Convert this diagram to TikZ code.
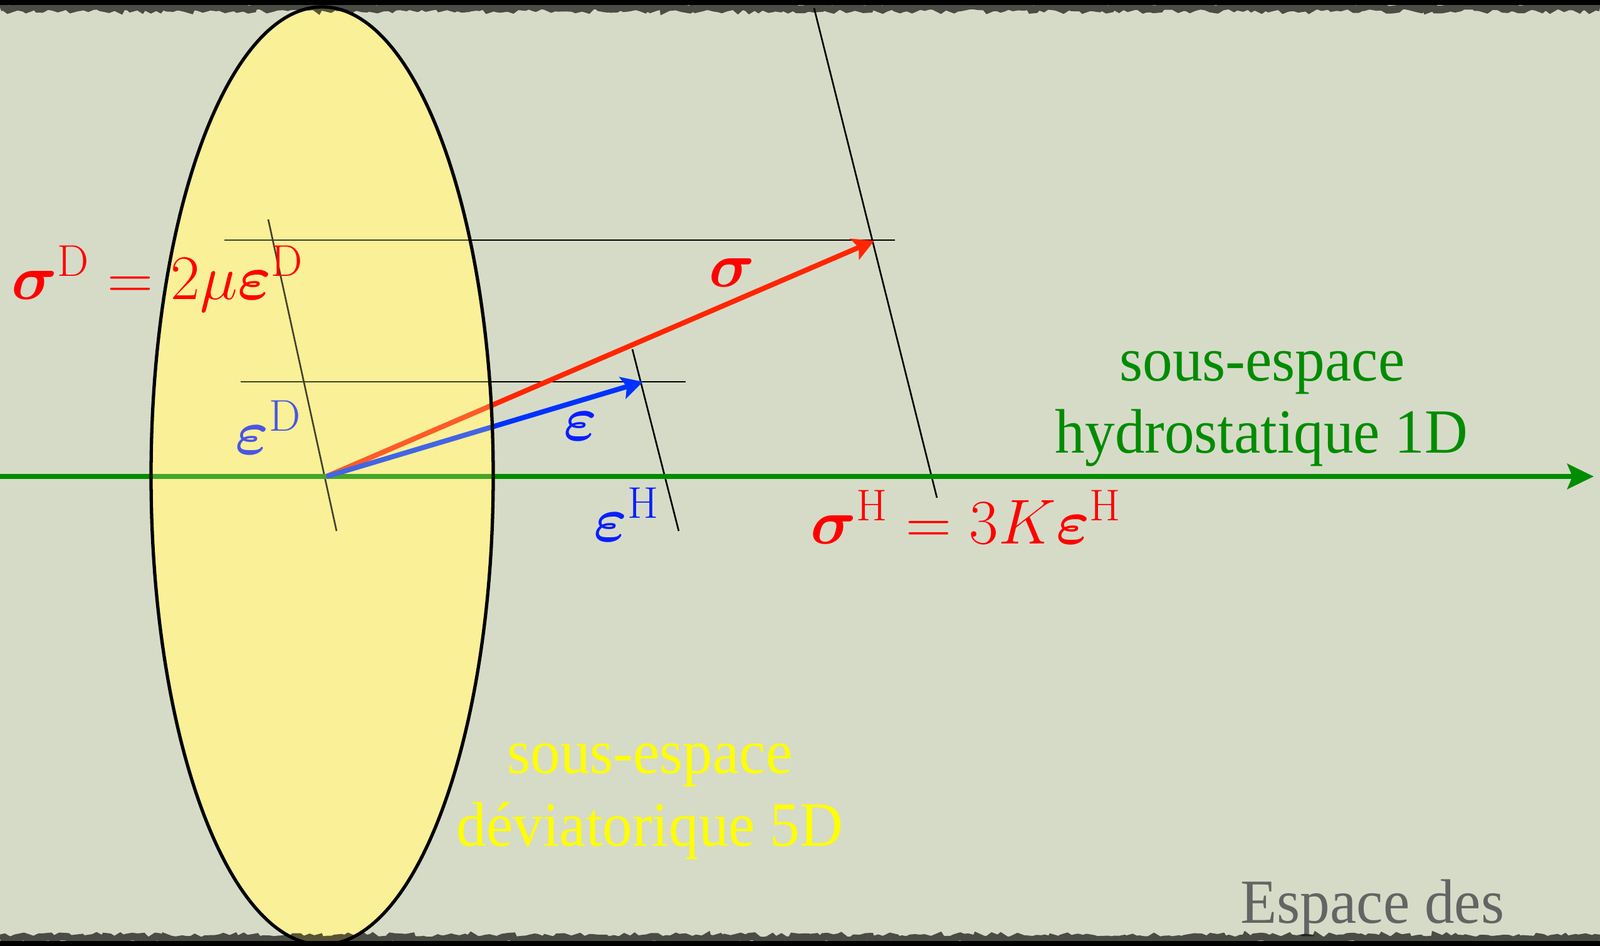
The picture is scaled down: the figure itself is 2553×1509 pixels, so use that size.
\RequirePackage{fix-cm}
\documentclass[tikz,border=0pt]{standalone}
\usepackage{amsmath}
\usepackage{fontspec}
\usepackage{bm}
\newfontfamily\labfont[FakeStretch=0.95]{Liberation Serif}
\usetikzlibrary{arrows.meta,decorations.pathmorphing}
\definecolor{bg}{RGB}{214,219,200}
\definecolor{ellfill}{RGB}{250,240,152}
\definecolor{axisgreen}{RGB}{0,140,0}
\definecolor{sigred}{RGB}{255,38,0}
\definecolor{epsarrow}{RGB}{0,50,255}
\definecolor{epstext}{RGB}{10,30,255}
\definecolor{txtyellow}{RGB}{255,255,0}
\definecolor{txtgray}{RGB}{100,100,100}
\begin{document}
\begin{tikzpicture}[x=0.01cm,y=-0.01cm,
  mathlab/.style={inner sep=0pt, font=\fontsize{28.8}{34}\selectfont},
  txtlab/.style={inner sep=0pt, font=\labfont\fontsize{28.5}{34}\selectfont},
  thinline/.style={black, line width=0.75pt},
  vecarrow/.style={line width=2.3pt, -{Stealth[length=0.34cm,width=0.36cm,inset=0.07cm]}},
  axisarrow/.style={axisgreen, line width=2.2pt, -{Stealth[length=0.42cm,width=0.40cm,inset=0.08cm]}},
]
\useasboundingbox (0,0) rectangle (2553,1509);
\fill[bg] (0,0) rectangle (2553,1509);

% coordinates
\coordinate (O) at (521,760);
\coordinate (S) at (1395,384);
\coordinate (E) at (1026,609);
\coordinate (axL) at (0,760);
\coordinate (axR) at (2543,760);
\coordinate (hSa) at (358,383);
\coordinate (hSb) at (1428,383);
\coordinate (hEa) at (384,609);
\coordinate (hEb) at (1094,609);
\coordinate (dOa) at (428,350);
\coordinate (dOb) at (537,847);
\coordinate (dEa) at (1009,557);
\coordinate (dEb) at (1083,847);
\coordinate (dSa) at (1299,13);
\coordinate (dSb) at (1495,794);
\coordinate (C) at (514,759);

% deviatoric ellipse (opaque base)
\fill[ellfill] (C) ellipse [x radius=273, y radius=748];

% construction lines
\draw[thinline] (hSa) -- (hSb);
\draw[thinline] (hEa) -- (hEb);
\draw[thinline] (dOa) -- (dOb);
\draw[thinline] (dEa) -- (dEb);
\draw[thinline] (dSa) -- (dSb);

% axis and vectors
\draw[axisarrow] (axL) -- (axR);
\draw[vecarrow, sigred] (O) -- (S);
\draw[vecarrow, epsarrow] (O) -- (E);

% label under the veil
\node[mathlab, epstext, anchor=base west] (eD) at (375,724) {$\bm{\varepsilon}^{\mathrm{D}}$};

% translucent veil of the ellipse
\fill[ellfill, opacity=0.27] (C) ellipse [x radius=273, y radius=748];
\draw[black, line width=1.5pt] (C) ellipse [x radius=273, y radius=748];

% labels
\node[mathlab, red, anchor=base west] (sD) at (18,477) {$\bm{\sigma}^{\mathrm{D}} = 2\mu\bm{\varepsilon}^{\mathrm{D}}$};
\node[mathlab, red, anchor=base west] (sH) at (1293,867) {$\bm{\sigma}^{\mathrm{H}} = 3K\bm{\varepsilon}^{\mathrm{H}}$};
\node[mathlab, red] (sl) at (1168,435) {$\bm{\sigma}$};
\node[mathlab, epstext] (el) at (926,680) {$\bm{\varepsilon}$};
\node[mathlab, epstext, anchor=base west] (eH) at (947,863) {$\bm{\varepsilon}^{\mathrm{H}}$};

\node[txtlab, axisgreen, anchor=base] (h1) at (2014,607) {sous-espace};
\node[txtlab, axisgreen, anchor=base] (h2) at (2013,722) {hydrostatique 1D};
\node[txtlab, txtyellow, anchor=base] (d1) at (1037,1233) {sous-espace};
\node[txtlab, txtyellow, anchor=base] (d2) at (1037,1349) {déviatorique 5D};
\node[txtlab, txtgray, anchor=base west] (esp) at (1979,1472) {Espace des};

% torn top and bottom edges
\fill[black] (0,0) rectangle (2553,8);
\draw[black, opacity=0.65, line width=3.5pt, decorate, decoration={random steps, segment length=2pt, amplitude=1pt}] (0,12) -- (2553,12);
\fill[black] (0,1501) rectangle (2553,1509);
\draw[black, opacity=0.65, line width=3.5pt, decorate, decoration={random steps, segment length=2pt, amplitude=1pt}] (0,1497) -- (2553,1497);
\end{tikzpicture}
\end{document}
